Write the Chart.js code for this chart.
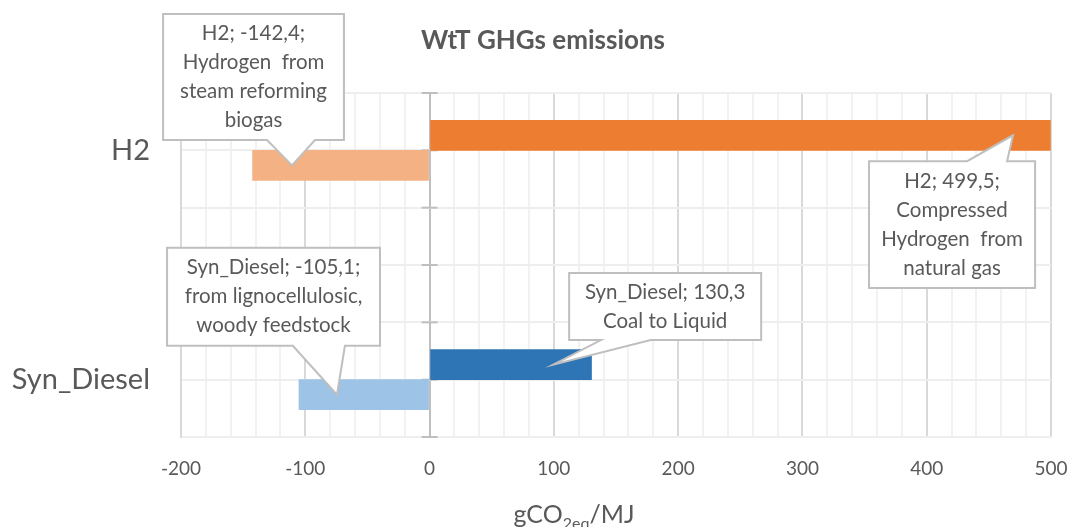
<!DOCTYPE html>
<html><head><meta charset="utf-8">
<script src="https://cdn.jsdelivr.net/npm/chart.js@4.4.1/dist/chart.umd.min.js"></script>
<style>html,body{margin:0;padding:0;background:#fff}#wrap{width:1070px;height:527px}</style>
</head><body><div id="wrap"><canvas id="c" width="1070" height="527"></canvas></div>
<script>
// ---- data ----
const categories = ['H2', 'Syn_Diesel'];
const maxValues = [499.5, 130.3];
const minValues = [-142.4, -105.1];
const yTickLabels = ['', 'H2', '', '', '', 'Syn_Diesel', ''];
const xMin = -200, xMax = 500, xMajorStep = 100, xMinorStep = 20;
const maxLabels = [
  ['H2; 499,5;', 'Compressed', 'Hydrogen  from', 'natural gas'],
  ['Syn_Diesel; 130,3', 'Coal to Liquid']
];
const minLabels = [
  ['H2; -142,4;', 'Hydrogen  from', 'steam reforming', 'biogas'],
  ['Syn_Diesel; -105,1;', 'from lignocellulosic,', 'woody feedstock']
];
const maxColors = ['#ED7D31', '#2E75B6'];
const minColors = ['#F4B183', '#9DC3E6'];
const chartTitle = 'WtT GHGs emissions';
const axisTitle = ['gCO', '2eq', '/MJ'];

// ---- callout placement (data units: x = value, y = category index) ----
const calloutLayout = {
  max: [
    {box: [353.6, 487.2, 1.19, 3.40], base: [432.5, 464.7], side: 'top', tip: 469.4},
    {box: [112.3, 266.8, 3.14, 4.31], base: [137.9, 177.9], side: 'bottom', tip: 99.5}
  ],
  min: [
    {box: [-214.4, -68.9, -1.38, 0.82], base: [-130.8, -92.2], side: 'bottom', tip: -110.7},
    {box: [-211.2, -39.9, 2.70, 4.41], base: [-110.0, -68.1], side: 'bottom', tip: -74.5}
  ]
};

Chart.defaults.font.family = 'Lato, "Liberation Sans", sans-serif';
Chart.defaults.color = '#595959';

const TEXT = '#595959';

const decorPlugin = {
  id: 'decor',
  beforeDatasetsDraw(chart) {
    const ctx = chart.ctx, xs = chart.scales.x, ys = chart.scales.y;
    const x0 = xs.getPixelForValue(0);
    ctx.save();
    ctx.strokeStyle = '#BFBFBF';
    ctx.lineWidth = 2;
    for (let i = 0; i < yTickLabels.length; i++) {
      const y = ys.getPixelForValue(i);
      ctx.beginPath(); ctx.moveTo(x0 - 8, y); ctx.lineTo(x0 + 8, y); ctx.stroke();
    }
    ctx.restore();
  },
  afterDatasetsDraw(chart) {
    const ctx = chart.ctx, xs = chart.scales.x, ys = chart.scales.y;
    const drawCallout = (lay, lines, el) => {
      const L = xs.getPixelForValue(lay.box[0]), R = xs.getPixelForValue(lay.box[1]);
      const T = ys.getPixelForValue(lay.box[2]), B = ys.getPixelForValue(lay.box[3]);
      const b1 = xs.getPixelForValue(lay.base[0]), b2 = xs.getPixelForValue(lay.base[1]);
      const tx = xs.getPixelForValue(lay.tip), ty = el.y;
      ctx.save();
      ctx.beginPath();
      if (lay.side === 'top') {
        ctx.moveTo(L, T); ctx.lineTo(b1, T); ctx.lineTo(tx, ty); ctx.lineTo(b2, T);
        ctx.lineTo(R, T); ctx.lineTo(R, B); ctx.lineTo(L, B); ctx.closePath();
      } else {
        ctx.moveTo(L, T); ctx.lineTo(R, T); ctx.lineTo(R, B); ctx.lineTo(b2, B);
        ctx.lineTo(tx, ty); ctx.lineTo(b1, B); ctx.lineTo(L, B); ctx.closePath();
      }
      ctx.fillStyle = '#FFFFFF';
      ctx.fill();
      ctx.strokeStyle = '#BFBFBF';
      ctx.lineWidth = 2;
      ctx.lineJoin = 'miter';
      ctx.stroke();
      ctx.fillStyle = TEXT;
      ctx.font = '20.5px Lato';
      ctx.textAlign = 'center';
      ctx.textBaseline = 'middle';
      const lh = 29;
      const cx = (L + R) / 2, cy = (T + B) / 2;
      const start = cy - lh * (lines.length - 1) / 2;
      lines.forEach((t, i) => ctx.fillText(t, cx, start + i * lh));
      ctx.restore();
    };
    const mMax = chart.getDatasetMeta(0), mMin = chart.getDatasetMeta(1);
    categories.forEach((c, i) => {
      drawCallout(calloutLayout.max[i], maxLabels[i], mMax.data[i]);
      drawCallout(calloutLayout.min[i], minLabels[i], mMin.data[i]);
    });
  },
  afterDraw(chart) {
    const ctx = chart.ctx, area = chart.chartArea;
    ctx.save();
    ctx.fillStyle = TEXT;
    ctx.font = 'bold 26px Lato';
    ctx.textAlign = 'center';
    ctx.textBaseline = 'alphabetic';
    ctx.fillText(chartTitle, chart.width / 2 + 8, 49);
    // axis title with subscript
    const big = '25px Lato', small = '16px Lato';
    ctx.font = big; const w1 = ctx.measureText(axisTitle[0]).width, w3 = ctx.measureText(axisTitle[2]).width;
    ctx.font = small; const w2 = ctx.measureText(axisTitle[1]).width;
    const total = w1 + w2 + w3;
    let x = (area.left + area.right) / 2 - 42 - total / 2;
    const yb = 523;
    ctx.textAlign = 'left';
    ctx.font = big; ctx.fillText(axisTitle[0], x, yb); x += w1;
    ctx.font = small; ctx.fillText(axisTitle[1], x, yb + 6); x += w2;
    ctx.font = big; ctx.fillText(axisTitle[2], x, yb);
    ctx.restore();
  }
};

new Chart(document.getElementById('c'), {
  type: 'bar',
  data: {
    labels: yTickLabels,
    datasets: [
      {
        label: 'max',
        data: categories.map((c, i) => ({x: maxValues[i], y: c})),
        backgroundColor: maxColors,
        barThickness: 30,
        borderWidth: 0
      },
      {
        label: 'min',
        data: categories.map((c, i) => ({x: minValues[i], y: c})),
        backgroundColor: minColors,
        barThickness: 30,
        borderWidth: 0
      }
    ]
  },
  options: {
    indexAxis: 'y',
    responsive: false,
    animation: false,
    devicePixelRatio: 1,
    layout: {padding: {top: 93, right: 0, left: 0, bottom: 0}},
    plugins: {legend: {display: false}, tooltip: {enabled: false}, title: {display: false}},
    scales: {
      x: {
        min: xMin, max: xMax,
        ticks: {
          stepSize: xMinorStep,
          autoSkip: false, maxRotation: 0,
          color: TEXT,
          font: {size: 19},
          padding: 20,
          callback: v => (Math.round(v) % xMajorStep === 0 ? String(Math.round(v)) : '')
        },
        grid: {
          drawTicks: false,
          lineWidth: 2,
          color: c => {
            const v = Math.round(c.tick.value);
            if (v === 0) return '#BFBFBF';
            return v % xMajorStep === 0 ? '#D9D9D9' : '#F2F2F2';
          }
        },
        border: {display: true, color: '#EEEEEE', width: 2},
        afterFit: s => { s.height = 90; s.paddingRight = 19; }
      },
      y: {
        offset: false,
        ticks: {color: TEXT, font: {size: 29}, padding: 31, autoSkip: false},
        grid: {offset: false, drawTicks: false, color: '#EEEEEE', lineWidth: 2},
        border: {display: true, color: '#D9D9D9', width: 2},
        afterFit: s => { s.width = 181; }
      }
    }
  },
  plugins: [decorPlugin]
});
</script>
</body></html>
